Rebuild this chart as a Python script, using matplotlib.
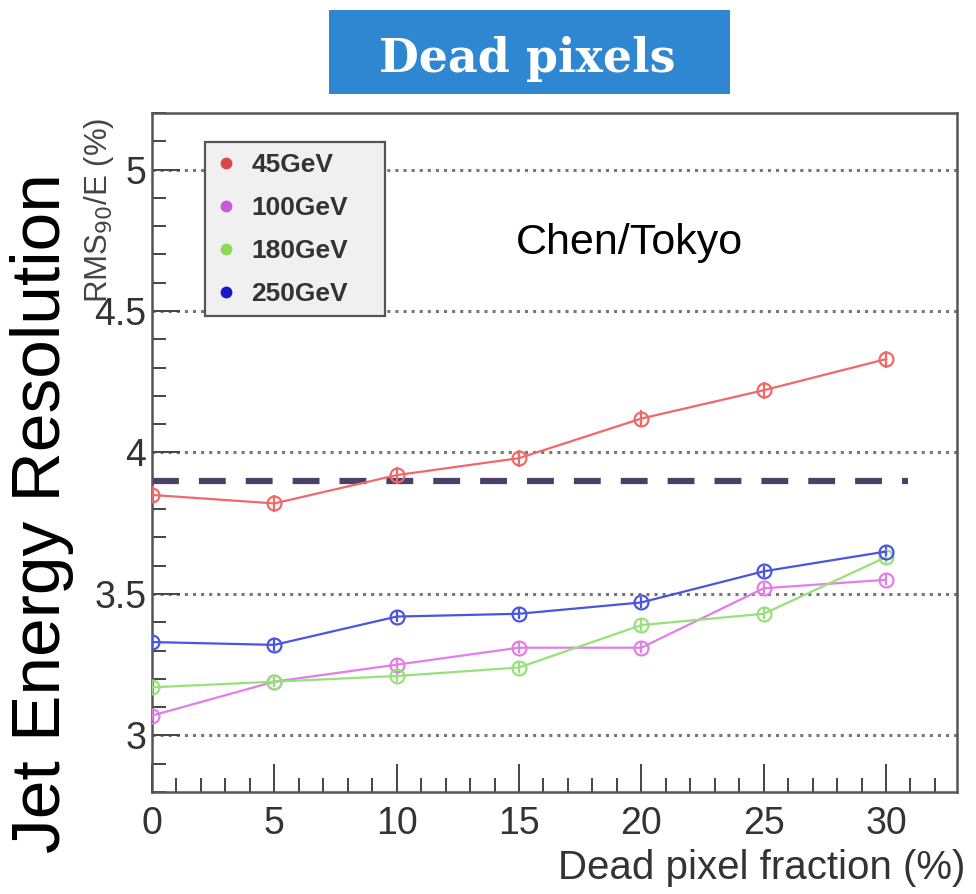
import numpy as np
import matplotlib
matplotlib.use("Agg")
import matplotlib.pyplot as plt
from matplotlib.lines import Line2D
from matplotlib.patches import Rectangle
from matplotlib.ticker import MultipleLocator

# dead pixel fraction (%)
frac = [0, 5, 10, 15, 20, 25, 30]

# RMS90/E (%) per jet energy
res_45 = [3.85, 3.82, 3.92, 3.98, 4.12, 4.22, 4.33]
res_100 = [3.07, 3.19, 3.25, 3.31, 3.31, 3.52, 3.55]
res_180 = [3.17, 3.19, 3.21, 3.24, 3.39, 3.43, 3.63]
res_250 = [3.33, 3.32, 3.42, 3.43, 3.47, 3.58, 3.65]

err_45 = [0.03] * 7
err_100 = [0.02] * 7
err_180 = [0.02] * 7
err_250 = [0.02] * 7

labels = ["45GeV", "100GeV", "180GeV", "250GeV"]
line_cols = ["#f06868", "#e27ee8", "#98e07a", "#4a55e0"]
dot_cols = ["#d84848", "#c85ad8", "#8cd858", "#1818c8"]

target = 3.9
target_end = 30.9

plt.rcParams['font.family'] = ['Liberation Sans', 'DejaVu Sans']

fig = plt.figure(figsize=(9.76, 8.94), dpi=100)
ax = fig.add_axes([0.1557, 0.1141, 0.8248, 0.7595])

series = [(res_45, err_45), (res_100, err_100), (res_180, err_180), (res_250, err_250)]
for (y, e), c in zip(series, line_cols):
    ax.errorbar(frac, y, yerr=e, color=c, lw=1.6, marker='o', ms=10,
                mfc='none', mec=c, mew=1.6, elinewidth=1.6, capsize=0, zorder=3)

ax.plot([0, target_end], [target, target], color="#4a4068", lw=4.5,
        dashes=(4.3, 3.2), zorder=2)

ax.set_xlim(0, 32.9)
ax.set_ylim(2.8, 5.2)
ax.xaxis.set_major_locator(MultipleLocator(5))
ax.xaxis.set_minor_locator(MultipleLocator(1))
ax.yaxis.set_minor_locator(MultipleLocator(0.1))
ax.set_yticks([3, 3.5, 4, 4.5, 5])
ax.set_yticklabels(["3", "3.5", "4", "4.5", "5"])

ax.tick_params(which='both', direction='in', top=False, right=False,
               colors="#444444", labelcolor="#333333", labelsize=27, width=1.4)
ax.tick_params(which='major', length=20)
ax.tick_params(which='minor', length=10)
ax.tick_params(axis='x', pad=10)
ax.tick_params(axis='y', pad=4)

ax.grid(axis='y', which='major', linestyle=':', color="#777777", lw=2.2)
for s in ax.spines.values():
    s.set_color("#555555")
    s.set_linewidth(1.8)

handles = [Line2D([], [], ls='none', marker='o', ms=7.5, color=c) for c in dot_cols]
leg = ax.legend(handles, labels, loc='upper left',
                bbox_to_anchor=(0.066, 0.70, 0.224, 0.257), mode='expand',
                prop={'weight': 'bold', 'size': 19}, labelspacing=0.72,
                handlelength=0.8, handletextpad=0.55, borderpad=0.4,
                fancybox=False, framealpha=1, facecolor="#f0f0f0",
                edgecolor="#555555", borderaxespad=0)
leg.get_frame().set_linewidth(1.6)
for t in leg.get_texts():
    t.set_color("#333333")

ax.text(-0.066, 0.993, r"RMS$_{90}$/E (%)", transform=ax.transAxes, rotation=90,
        ha='center', va='top', fontsize=22.5, color="#444444")

fig.text(0.645, 0.728, "Chen/Tokyo", ha='center', va='center', fontsize=31, color="black")
fig.text(0.043, 0.426, "Jet Energy Resolution", rotation=90, ha='center', va='center',
         fontsize=50, color="black")
fig.text(0.989, 0.029, "Dead pixel fraction (%)", ha='right', va='center',
         fontsize=29, color="#333333")

# title banner
fig.patches.append(Rectangle((0.337, 0.895), 0.411, 0.094, transform=fig.transFigure,
                             facecolor="#2f87d1", edgecolor='none'))
fig.text(0.540, 0.9195, "Dead pixels", ha='center', va='baseline', fontsize=33,
         fontweight='bold', family='DejaVu Serif', color="white")

fig.savefig("out.png", dpi=100)
